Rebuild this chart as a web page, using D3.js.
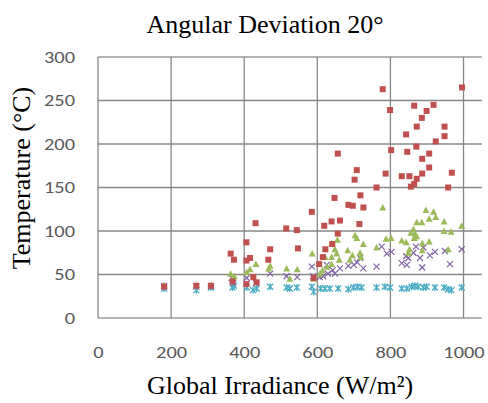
<!DOCTYPE html>
<html><head><meta charset="utf-8">
<script src="https://cdn.jsdelivr.net/npm/d3@7"></script>
<style>html,body{margin:0;padding:0;background:#fff;}</style>
</head><body>
<svg id="c" width="488" height="403"></svg>
<script>
const title = "Angular Deviation 20\u00B0";
const xLabel = "Global Irradiance (W/m\u00B2)";
const yLabel = "Temperature (\u00B0C)";
const xTicks = [0,200,400,600,800,1000];
const yTicks = [0,50,100,150,200,250,300];

const redSeries = [[181,36],[269,37],[309,37],[363,74],[372,67],[368,42],[406,87],[406,66],[416,69],[406,39],[425,47],[434,41],[431,109],[466,67],[471,79],[515,103],[544,101],[547,80],[585,122],[590,46],[605,62],[615,70],[619,106],[622,79],[639,111],[641,85],[647,138],[656,97],[656,189],[662,112],[685,130],[697,129],[702,159],[708,170],[715,108],[718,141],[726,127],[762,150],[779,263],[787,166],[799,239],[802,193],[831,163],[843,211],[846,191],[852,163],[856,151],[865,154],[865,244],[871,197],[872,160],[872,220],[886,230],[887,183],[887,166],[899,238],[906,189],[906,173],[918,245],[924,203],[948,220],[948,209],[958,150],[968,167],[996,265]];
const greenSeries = [[181,38],[269,38],[309,38],[363,51],[373,48],[407,53],[416,56],[432,62],[467,57],[471,60],[516,57],[525,45],[545,56],[586,74],[590,45],[607,51],[614,55],[621,70],[626,59],[639,62],[639,70],[639,86],[648,79],[653,74],[655,90],[660,67],[683,78],[689,67],[696,72],[703,95],[708,92],[717,75],[719,70],[726,85],[762,81],[779,127],[788,91],[802,92],[831,89],[843,87],[849,75],[852,79],[856,98],[863,102],[865,92],[867,97],[872,94],[872,110],[886,110],[887,86],[887,78],[897,124],[906,114],[906,88],[918,122],[924,116],[947,111],[947,100],[958,79],[966,99],[995,106]];
const purpleSeries = [[181,37],[269,36],[309,36],[366,46],[370,40],[407,46],[432,40],[471,51],[516,48],[545,47],[585,59],[589,48],[607,47],[616,48],[626,61],[629,51],[642,55],[648,51],[662,57],[685,60],[700,61],[709,64],[717,69],[726,57],[762,59],[776,82],[790,74],[803,76],[831,63],[843,71],[845,61],[849,69],[863,75],[870,82],[881,69],[887,58],[890,81],[908,72],[922,76],[949,77],[963,62],[995,79]];
const cyanSeries = [[181,34],[269,32],[309,35],[368,35],[372,37],[407,35],[424,32],[434,34],[471,36],[516,35],[525,34],[544,35],[585,36],[590,30],[609,34],[621,34],[634,34],[657,34],[685,33],[699,35],[710,36],[721,35],[762,35],[785,36],[799,35],[831,34],[845,34],[858,36],[867,37],[876,36],[890,35],[899,36],[922,35],[947,35],[958,33],[967,32],[995,35]];

const svg = d3.select("#c");
const x = d3.scaleLinear().domain([0,1050]).range([98,481.8]);
const y = d3.scaleLinear().domain([0,300]).range([318,57]);

const grid = svg.append("g");
grid.selectAll("line.h").data(yTicks).join("line")
  .attr("x1", x(0)).attr("x2", x(1050))
  .attr("y1", d=>y(d)).attr("y2", d=>y(d))
  .attr("stroke", d=> (d===0||d===300) ? "#b4b4b4" : "#878787")
  .attr("stroke-width", d=> (d===0||d===300) ? 2 : 1.3);
grid.selectAll("line.v").data(xTicks).join("line")
  .attr("y1", y(0)).attr("y2", y(300))
  .attr("x1", d=>x(d)).attr("x2", d=>x(d))
  .attr("stroke", "#878787").attr("stroke-width", 1.3);

const tickFont = "Carlito, 'Liberation Sans', sans-serif";
const yAxis = d3.axisLeft(y).tickValues(yTicks).tickSize(0).tickFormat(d3.format("d"));
const ya = svg.append("g").attr("transform", `translate(${x(0)},0)`).call(yAxis);
ya.select(".domain").remove();
ya.selectAll("text").attr("x", null)
  .attr("transform","translate(-23,0) scale(1.2,1)")
  .attr("font-family",tickFont).attr("font-size",17).attr("fill","#595959");

const xAxis = d3.axisBottom(x).tickValues(xTicks).tickSize(0).tickPadding(28).tickFormat(d3.format("d"));
const xa = svg.append("g").attr("transform", `translate(0,${y(0)})`).call(xAxis);
xa.select(".domain").remove();
xa.selectAll("text").attr("transform","scale(1.2,1)")
  .attr("font-family",tickFont).attr("font-size",17).attr("fill","#595959");

const serif = "'Liberation Serif', 'Times New Roman', serif";
svg.append("text").attr("x",265).attr("y",33).attr("text-anchor","middle")
  .attr("font-family",serif).attr("font-size",26).attr("fill","#000").text(title);
svg.append("text").attr("x",280).attr("y",394).attr("text-anchor","middle")
  .attr("font-family",serif).attr("font-size",26).attr("fill","#000").text(xLabel);
svg.append("text").attr("transform","translate(30,178) rotate(-90)").attr("text-anchor","middle")
  .attr("font-family",serif).attr("font-size",26).attr("fill","#000").text(yLabel);

const gC = svg.append("g");
gC.selectAll("path").data(cyanSeries).join("path")
  .attr("transform", d=>`translate(${x(d[0])},${y(d[1])})`)
  .attr("d","M-3,-3L3,3M-3,3L3,-3M0,-3.5L0,3.5")
  .attr("stroke","#4BACC6").attr("stroke-width",1.3).attr("fill","none");
const gP = svg.append("g");
gP.selectAll("path").data(purpleSeries).join("path")
  .attr("transform", d=>`translate(${x(d[0])},${y(d[1])})`)
  .attr("d","M-3,-3L3,3M-3,3L3,-3")
  .attr("stroke","#8064A2").attr("stroke-width",1.2).attr("fill","none");
const gG = svg.append("g");
gG.selectAll("path").data(greenSeries).join("path")
  .attr("transform", d=>`translate(${x(d[0])},${y(d[1])})`)
  .attr("d","M0,-3.5L3.5,3L-3.5,3Z")
  .attr("fill","#9BBB59");
const gR = svg.append("g");
gR.selectAll("rect").data(redSeries).join("rect")
  .attr("x", d=>x(d[0])-3).attr("y", d=>y(d[1])-3)
  .attr("width",6).attr("height",6)
  .attr("fill","#C0504D");
</script>
</body></html>
